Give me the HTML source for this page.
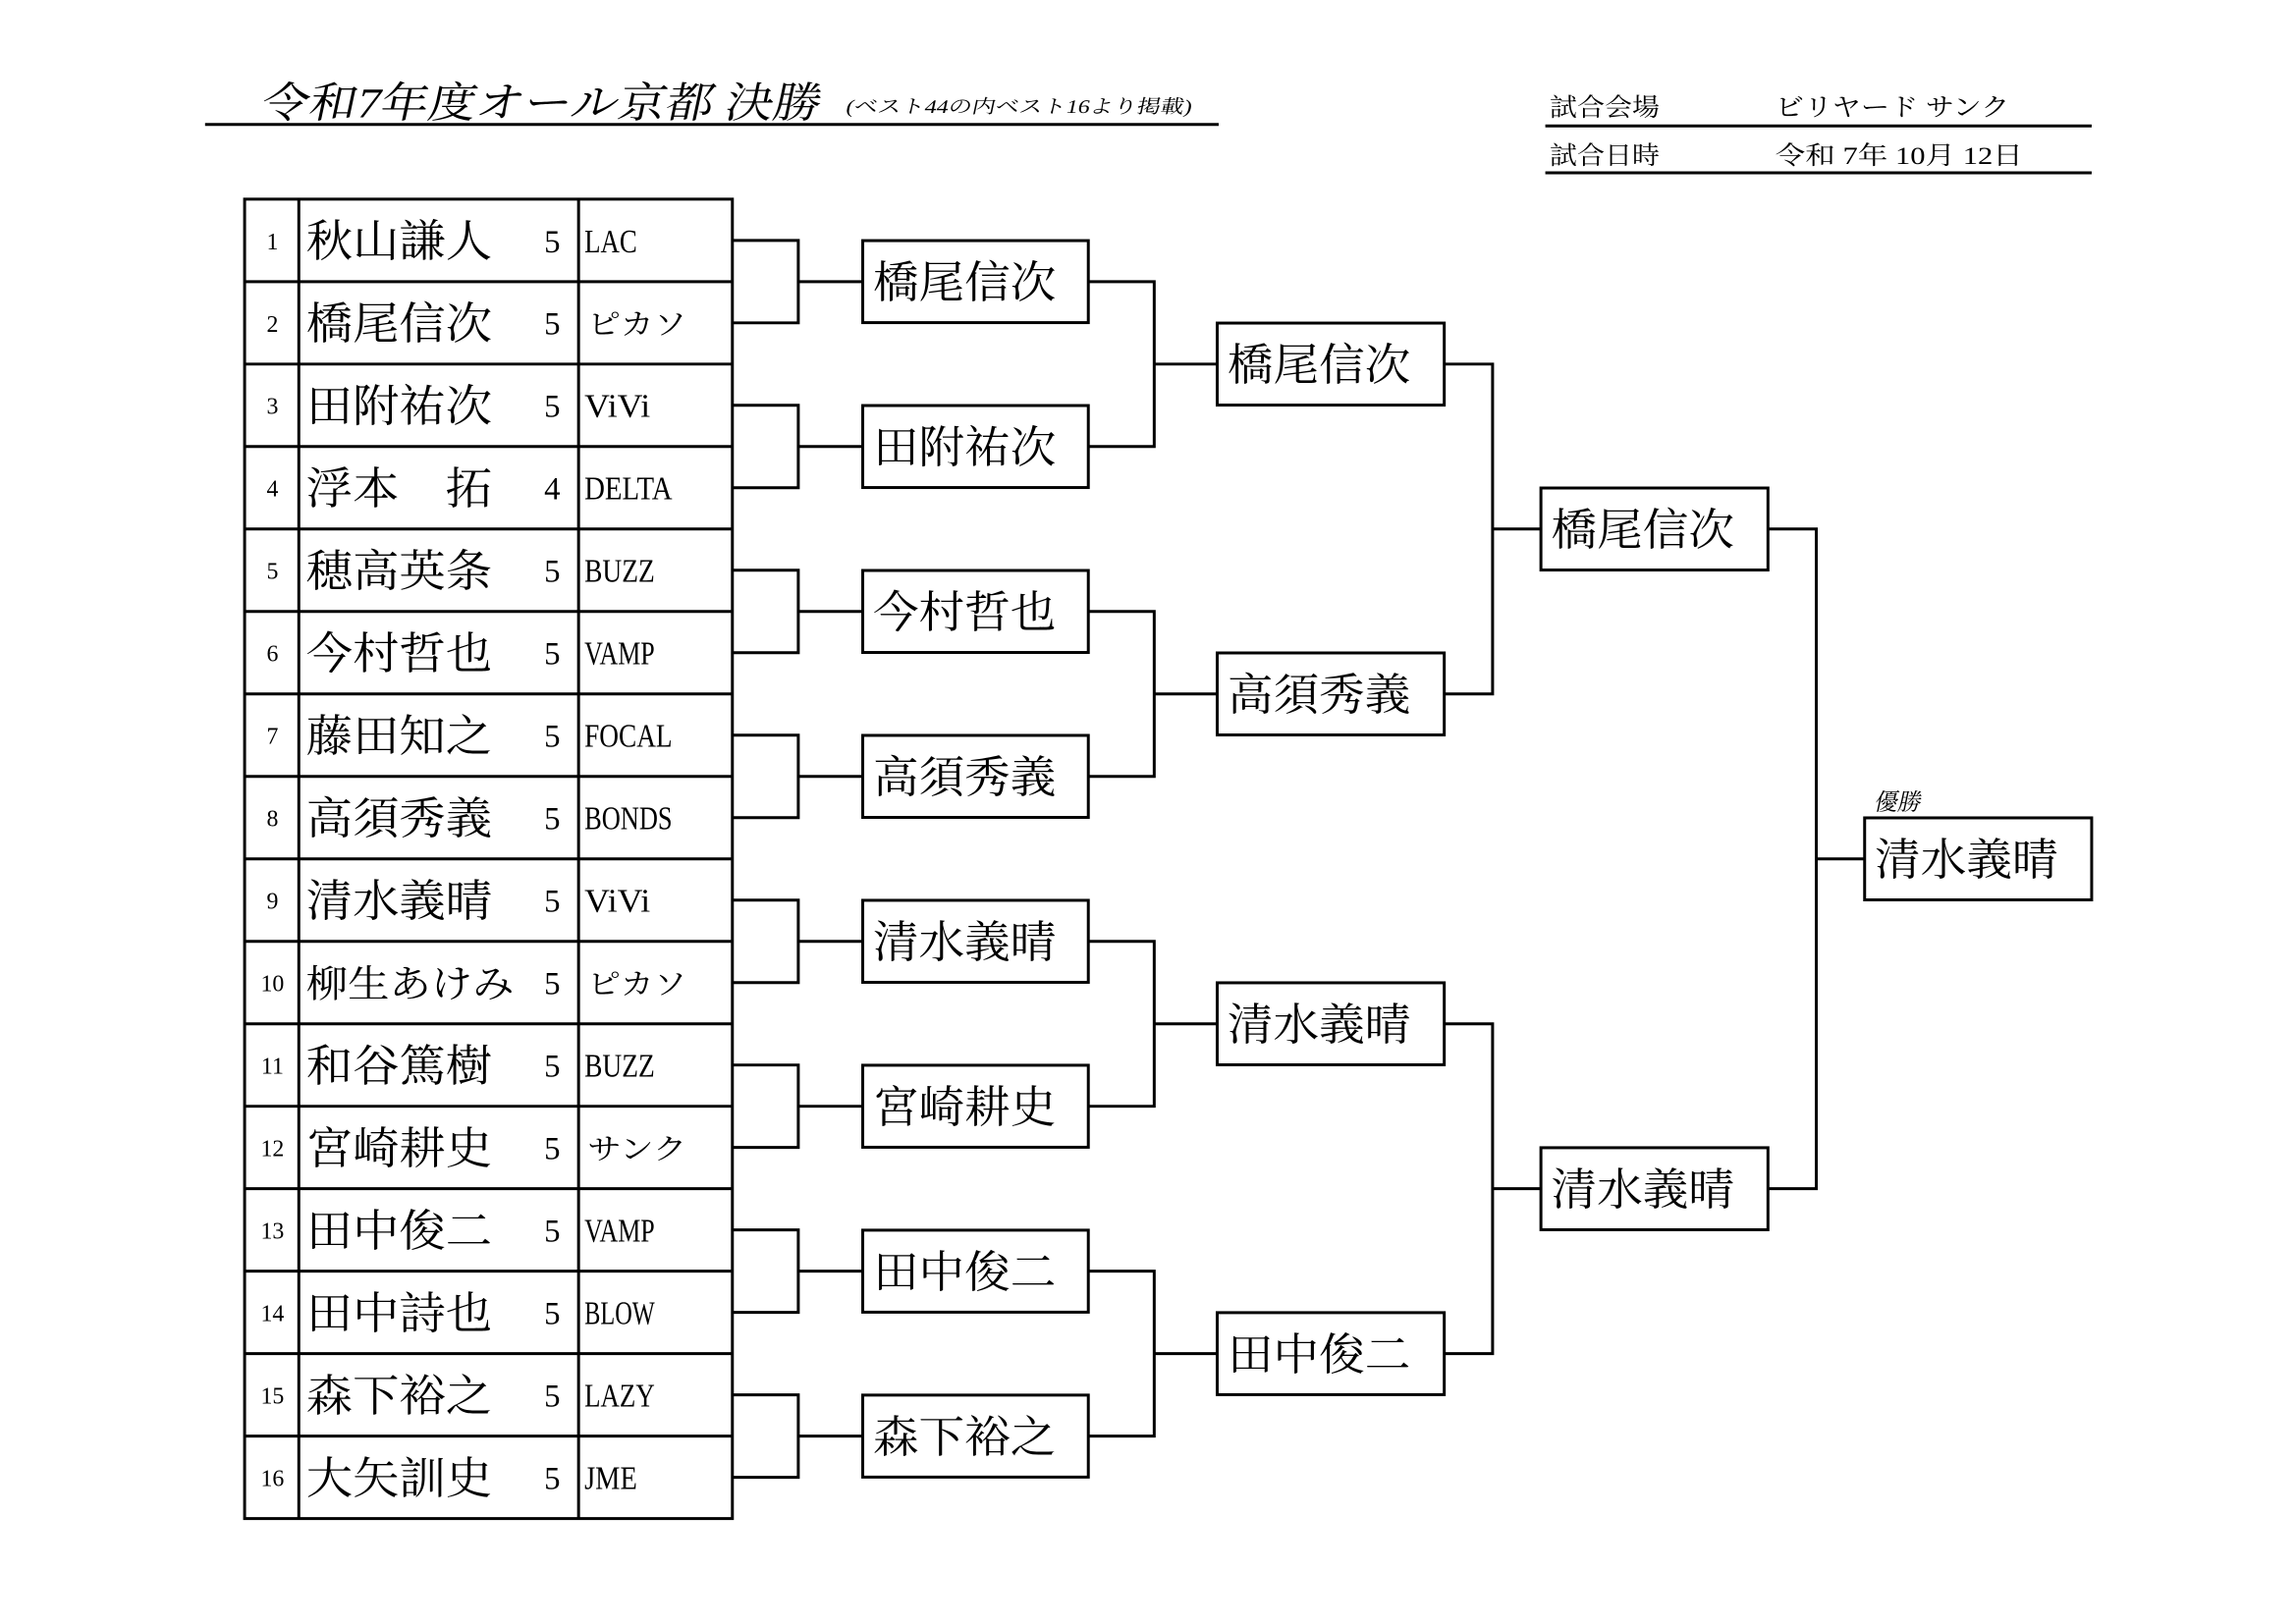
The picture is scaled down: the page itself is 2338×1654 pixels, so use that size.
<!DOCTYPE html>
<html><head><meta charset="utf-8"><style>
html,body{margin:0;padding:0;background:#fff;}
svg{display:block;}
text{font-family:"Liberation Serif","Noto Serif CJK SC","Noto Sans CJK JP",serif;fill:#000;}
</style></head><body>
<svg width="2338" height="1654" viewBox="0 0 1567.5 1109" preserveAspectRatio="none" xmlns="http://www.w3.org/2000/svg">
<rect width="1567.5" height="1109" fill="#fff"/>
<g transform="translate(177,80) skewX(-12)">
<text x="0" y="0" font-size="29" textLength="382" lengthAdjust="spacingAndGlyphs">令和7年度オール京都 決勝</text>
</g>
<g transform="translate(577,77) skewX(-12)">
<text x="0" y="0" font-size="13" textLength="236" lengthAdjust="spacingAndGlyphs">(ベスト44の内ベスト16より掲載)</text>
</g>
<line x1="140" y1="85" x2="832" y2="85" stroke="#000" stroke-width="2"/>
<text x="1058" y="79" font-size="17" textLength="75" lengthAdjust="spacingAndGlyphs">試合会場</text>
<text x="1212" y="79" font-size="17" textLength="160" lengthAdjust="spacingAndGlyphs">ビリヤード サンク</text>
<line x1="1055" y1="86" x2="1428" y2="86" stroke="#000" stroke-width="2"/>
<text x="1058" y="112" font-size="17" textLength="75" lengthAdjust="spacingAndGlyphs">試合日時</text>
<text x="1212" y="112" font-size="17" textLength="169" lengthAdjust="spacingAndGlyphs">令和 7年 10月 12日</text>
<line x1="1055" y1="118" x2="1428" y2="118" stroke="#000" stroke-width="2"/>

<g stroke="#000" stroke-width="2" fill="none">
<rect x="167" y="136" width="333" height="901"/>
<line x1="204" y1="136" x2="204" y2="1037"/>
<line x1="395" y1="136" x2="395" y2="1037"/>
</g>
<g id="rows"></g>
<g id="bracket" stroke="#000" stroke-width="2" fill="none"></g>
<g id="labels"></g>
<g transform="translate(1279,553) skewX(-12)"><text x="0" y="0" font-size="16">優勝</text></g>
</svg>
<script>
var NS="http://www.w3.org/2000/svg";
var svg=document.querySelector('svg');
function el(tag,attrs,parent,txt){var e=document.createElementNS(NS,tag);for(var k in attrs)e.setAttribute(k,attrs[k]);if(txt!==undefined)e.textContent=txt;(parent||svg).appendChild(e);return e;}
var rows=document.getElementById('rows'),br=document.getElementById('bracket'),lb=document.getElementById('labels');
var players=[["秋山謙人","5","LAC"],["橋尾信次","5","ピカソ"],["田附祐次","5","ViVi"],["浮本　拓","4","DELTA"],["穂高英条","5","BUZZ"],["今村哲也","5","VAMP"],["藤田知之","5","FOCAL"],["高須秀義","5","BONDS"],["清水義晴","5","ViVi"],["柳生あけみ","5","ピカソ"],["和谷篤樹","5","BUZZ"],["宮崎耕史","5","サンク"],["田中俊二","5","VAMP"],["田中詩也","5","BLOW"],["森下裕之","5","LAZY"],["大矢訓史","5","JME"]];
var top0=136,rh=(1037-136)/16;
var teamW={"LAC":36,"ViVi":45,"DELTA":60,"BUZZ":48,"VAMP":48,"FOCAL":60,"BONDS":60,"BLOW":48,"LAZY":48,"JME":36};
var mids=[];
for(var i=0;i<16;i++){
 var y=top0+rh*i,c=y+rh/2;mids.push(c);
 if(i>0)el('line',{x1:167,y1:y,x2:500,y2:y,stroke:'#000','stroke-width':2},rows);
 el('text',{x:186,y:c+6,'font-size':16,'text-anchor':'middle'},rows,String(i+1));
 var p=players[i];
 if(i==9) el('text',{x:209,y:c+10,'font-size':26,textLength:142,lengthAdjust:'spacingAndGlyphs'},rows,p[0]);
 else el('text',{x:209,y:c+11,'font-size':30,textLength:127,lengthAdjust:'spacingAndGlyphs'},rows,p[0]);
 el('text',{x:377,y:c+8,'font-size':22,'text-anchor':'middle'},rows,p[1]);
 if(teamW[p[2]]) el('text',{x:399,y:c+8,'font-size':23,textLength:teamW[p[2]],lengthAdjust:'spacingAndGlyphs'},rows,p[2]);
 else el('text',{x:401,y:c+8,'font-size':20,textLength:68,lengthAdjust:'spacingAndGlyphs'},rows,p[2]);
}
function round(inMids,xIn,xV,xBox,bw,names){
 var out=[];
 for(var k=0;k<inMids.length/2;k++){
  var a=inMids[2*k],b=inMids[2*k+1],m=(a+b)/2;out.push(m);
  el('path',{d:'M'+xIn+' '+a+'H'+xV+'V'+b+'H'+xIn+'M'+xV+' '+m+'H'+xBox},br);
  el('rect',{x:xBox,y:m-28,width:bw,height:56},br);
  el('text',{x:xBox+7,y:m+11,'font-size':30,textLength:125,lengthAdjust:'spacingAndGlyphs'},lb,names[k]);
 }
 return out;
}
var r2=round(mids,500,545,589,154,["橋尾信次","田附祐次","今村哲也","高須秀義","清水義晴","宮崎耕史","田中俊二","森下裕之"]);
var r3=round(r2,743,788,831,155,["橋尾信次","高須秀義","清水義晴","田中俊二"]);
var r4=round(r3,986,1019,1052,155,["橋尾信次","清水義晴"]);
var r5=round(r4,1207,1240,1273,155,["清水義晴"]);
</script>
</body></html>
